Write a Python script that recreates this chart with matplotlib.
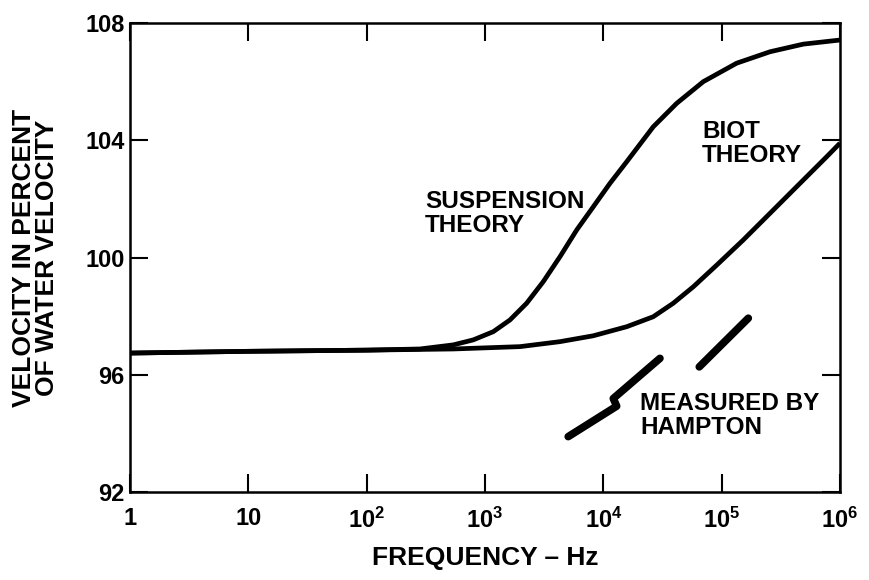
import numpy as np
import matplotlib.pyplot as plt

plt.rcParams['font.family'] = ['Liberation Sans', 'DejaVu Sans']
plt.rcParams['font.weight'] = 'bold'
plt.rcParams['mathtext.fontset'] = 'custom'
plt.rcParams['mathtext.rm'] = 'Liberation Sans:bold'
plt.rcParams['mathtext.bf'] = 'Liberation Sans:bold'
plt.rcParams['mathtext.default'] = 'rm'

# curves (frequency in Hz, velocity in % of water velocity)
susp_f = [1, 10, 100, 282, 540, 796, 1175, 1626, 2249, 3112, 4305, 5957, 8222,
          11376, 15776, 26420, 41690, 69980, 133970, 256450, 489780, 1000000]
susp_v = [96.74, 96.8, 96.84, 96.88, 97.02, 97.19, 97.47, 97.87, 98.44, 99.18,
          100.03, 100.94, 101.73, 102.53, 103.27, 104.46, 105.26, 106.0, 106.63,
          107.02, 107.28, 107.42]

biot_f = [1, 10, 100, 540, 1977, 4305, 8222, 15776, 26420, 38990, 57540, 90780,
          152400, 256450, 459200, 772700, 1000000]
biot_v = [96.74, 96.8, 96.84, 96.88, 96.96, 97.13, 97.33, 97.64, 97.98, 98.44,
          99.0, 99.74, 100.6, 101.51, 102.53, 103.44, 103.9]

# Hampton measurements (two pieces joined by a small jog, plus one separate piece)
hampton1_f = [5050, 12970, 12140, 30100]
hampton1_v = [93.89, 94.93, 95.19, 96.56]
hampton2_f = [64700, 168000]
hampton2_v = [96.27, 97.93]

xticks = [1, 10, 100, 1000, 1e4, 1e5, 1e6]
xlabels = ['1', '10', '$10^2$', '$10^3$', '$10^4$', '$10^5$', '$10^6$']
yticks = [92, 96, 100, 104, 108]

fig = plt.figure(figsize=(8.69, 5.80), dpi=100)
ax = fig.add_axes([0.1496, 0.1517, 0.817, 0.8086])

ax.plot(susp_f, susp_v, color='black', lw=3.4, solid_capstyle='butt')
ax.plot(biot_f, biot_v, color='black', lw=3.4, solid_capstyle='butt')
ax.plot(hampton1_f, hampton1_v, color='black', lw=5.5, solid_capstyle='round',
        solid_joinstyle='round')
ax.plot(hampton2_f, hampton2_v, color='black', lw=5.5, solid_capstyle='round')

ax.set_xscale('log')
ax.set_xlim(1, 1e6)
ax.set_ylim(92, 108)
ax.set_xticks(xticks)
ax.set_xticklabels(xlabels)
ax.set_yticks(yticks)
ax.minorticks_off()
ax.tick_params(direction='in', length=13, width=1.5, top=True, right=True,
               labelsize=17, pad=11)
ax.tick_params(axis='y', pad=4)
for lab in ax.get_xticklabels() + ax.get_yticklabels():
    lab.set_fontweight('bold')
for s in ax.spines.values():
    s.set_linewidth(1.8)

ax.set_xlabel('FREQUENCY – Hz', fontsize=19, fontweight='bold', labelpad=10)
ax.set_ylabel('VELOCITY IN PERCENT\nOF WATER VELOCITY', fontsize=19,
              fontweight='bold', labelpad=19, linespacing=0.95)

ax.text(311, 102.3, 'SUSPENSION\nTHEORY', fontsize=17.5, fontweight='bold',
        va='top', ha='left', linespacing=1.05)
ax.text(68200, 104.69, 'BIOT\nTHEORY', fontsize=17.5, fontweight='bold',
        va='top', ha='left', linespacing=1.05)
ax.text(20400, 95.41, 'MEASURED BY\nHAMPTON', fontsize=17.5, fontweight='bold',
        va='top', ha='left', linespacing=1.05)

fig.savefig('out.png', dpi=100)
